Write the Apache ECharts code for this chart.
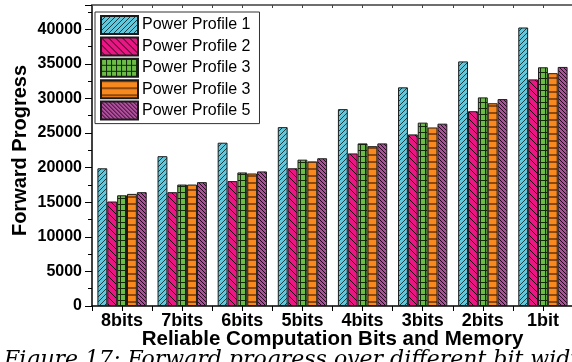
<!DOCTYPE html>
<html>
<head>
<meta charset="utf-8">
<script src="https://cdn.jsdelivr.net/npm/echarts@6/dist/echarts.min.js"></script>
<style>
  html, body { margin: 0; padding: 0; background: #fff; }
  #chart { width: 572px; height: 362px; }
</style>
</head>
<body>
<div id="chart"></div>
<script>
// Reliable computation width (bits) on the x axis
const categories = ['8bits', '7bits', '6bits', '5bits', '4bits', '3bits', '2bits', '1bit'];

// Forward progress for each power profile
const profile1 = [19900, 21650, 23600, 25850, 28450, 31600, 35350, 40250];
const profile2 = [15100, 16450, 18050, 19900, 22050, 24800, 28150, 32750];
const profile3 = [16000, 17550, 19300, 21150, 23500, 26500, 30150, 34500];
const profile3b = [16200, 17550, 19150, 20900, 23100, 25800, 29300, 33650];
const profile5 = [16450, 17900, 19450, 21350, 23500, 26350, 29900, 34550];

const legendLabels = ['Power Profile 1', 'Power Profile 2', 'Power Profile 3', 'Power Profile 3', 'Power Profile 5'];

// y axis range and step
const yMin = 0;
const yMax = 43500;
const yStep = 5000;

// Hatch fills drawn on small tiles
function tile(w, h, bg, draw) {
  const c = document.createElement('canvas');
  c.width = w; c.height = h;
  const g = c.getContext('2d');
  g.fillStyle = bg;
  g.fillRect(0, 0, w, h);
  draw(g, w, h);
  return { image: c, repeat: 'repeat' };
}
function diagUp(color, width) {
  return function (g, w, h) {
    g.strokeStyle = color; g.lineWidth = width;
    g.beginPath();
    g.moveTo(0, h); g.lineTo(w, 0);
    g.moveTo(-w, h); g.lineTo(0, 0);
    g.moveTo(w, 2 * h); g.lineTo(2 * w, h);
    g.moveTo(0, 2 * h); g.lineTo(w, h);
    g.moveTo(0, 0); g.lineTo(w, -h);
    g.stroke();
  };
}
function diagDown(color, width) {
  return function (g, w, h) {
    g.strokeStyle = color; g.lineWidth = width;
    g.beginPath();
    g.moveTo(0, 0); g.lineTo(w, h);
    g.moveTo(-w, 0); g.lineTo(0, h);
    g.moveTo(w, 0); g.lineTo(2 * w, h);
    g.moveTo(0, -h); g.lineTo(w, 0);
    g.moveTo(0, h); g.lineTo(w, 2 * h);
    g.stroke();
  };
}
const fillCyan = tile(5, 5, '#5ec8dc', diagUp('#1d3d44', 1));
const fillPink = tile(7, 7, '#ec1584', diagDown('#1a0a10', 1));
const fillGreen = tile(5, 6, '#6cbd45', function (g, w, h) {
  g.strokeStyle = '#142a0c'; g.lineWidth = 1;
  g.beginPath();
  g.moveTo(0.5, 0); g.lineTo(0.5, h);
  g.moveTo(0, 0.5); g.lineTo(w, 0.5);
  g.stroke();
});
const fillOrange = tile(4, 7, '#f7891f', function (g, w, h) {
  g.strokeStyle = '#6b3308'; g.lineWidth = 1.5;
  g.beginPath();
  g.moveTo(0, 1); g.lineTo(w, 1);
  g.stroke();
});
const fillPurple = tile(4, 4, '#b04d9d', diagDown('#1e0c1a', 1));

const fills = [fillCyan, fillPink, fillGreen, fillOrange, fillPurple];
const values = [profile1, profile2, profile3, profile3b, profile5];
const ids = ['pp1', 'pp2', 'pp3', 'pp3b', 'pp5'];

const chart = echarts.init(document.getElementById('chart'), null, { renderer: 'canvas' });

const series = values.map(function (vals, i) {
  return {
    name: ids[i],
    type: 'bar',
    xAxisIndex: 0,
    yAxisIndex: 0,
    data: vals,
    barGap: '0%',
    barCategoryGap: '18%',
    itemStyle: { color: fills[i], borderColor: '#1b1b1b', borderWidth: 1 },
    emphasis: { disabled: true },
    animation: false
  };
});

const labelMap = {};
ids.forEach(function (id, i) { labelMap[id] = legendLabels[i]; });

const boldFont = 'Liberation Sans';

chart.setOption({
  animation: false,
  backgroundColor: '#fff',
  grid: { left: 92, right: -1, top: 5, bottom: 56, containLabel: false, outerBoundsMode: 'none' },
  legend: {
    orient: 'vertical',
    left: 95,
    top: 12,
    data: ids,
    icon: 'rect',
    itemWidth: 37,
    itemHeight: 18,
    itemGap: 1.4,
    padding: [3, 9, 3, 5],
    borderColor: '#333',
    borderWidth: 1,
    backgroundColor: '#fff',
    selectedMode: false,
    formatter: function (name) { return labelMap[name]; },
    textStyle: { fontFamily: boldFont, fontSize: 16, lineHeight: 18, color: '#000', padding: [0, 0, 0, -1] }
  },
  xAxis: [
    {
      type: 'category',
      data: categories,
      position: 'bottom',
      axisLine: { lineStyle: { color: '#000', width: 1.5 } },
      axisTick: { show: false },
      axisLabel: { color: '#000', fontFamily: boldFont, fontWeight: 'bold', fontSize: 18, margin: 6 },
      name: 'Reliable Computation Bits and Memory',
      nameLocation: 'middle',
      nameMoveOverlap: false,
      nameGap: 23,
      nameTextStyle: { color: '#000', fontFamily: boldFont, fontWeight: 'bold', fontSize: 20.5 }
    },
    {
      type: 'value',
      position: 'bottom',
      min: 0,
      max: categories.length,
      interval: 0.5,
      axisLine: { show: false },
      axisTick: { show: true, inside: false, length: 5, lineStyle: { color: '#000', width: 1 } },
      axisLabel: { show: false },
      splitLine: { show: false }
    },
    {
      type: 'value',
      position: 'top',
      min: 0,
      max: categories.length,
      interval: 0.5,
      axisLine: { show: true, lineStyle: { color: '#6e6e6e', width: 2 } },
      axisTick: { show: true, inside: true, length: 3, lineStyle: { color: '#444', width: 1 } },
      axisLabel: { show: false },
      splitLine: { show: false }
    }
  ],
  yAxis: {
    type: 'value',
    min: yMin,
    max: yMax,
    interval: yStep,
    axisLine: { show: true, lineStyle: { color: '#000', width: 1.5 } },
    axisTick: { show: true, inside: false, length: 7, lineStyle: { color: '#000', width: 1 } },
    minorTick: { show: true, splitNumber: 2, length: 4, lineStyle: { color: '#000', width: 1 } },
    axisLabel: {
      color: '#000', fontFamily: boldFont, fontWeight: 'bold', fontSize: 16, margin: 10, showMaxLabel: false,
      formatter: function (v) { return String(v); }
    },
    splitLine: { show: false },
    name: 'Forward Progress',
    nameLocation: 'middle',
    nameRotate: 90,
    nameMoveOverlap: false,
    nameGap: 62,
    nameTextStyle: { color: '#000', fontFamily: boldFont, fontWeight: 'bold', fontSize: 20, padding: [0, 0, 0, 10] }
  },
  graphic: [
    {
      type: 'text',
      left: 4,
      top: 349,
      silent: true,
      style: {
        text: 'Figure 17: Forward progress over different bit widths',
        font: 'italic 22px "DejaVu Serif"',
        fill: '#000'
      }
    }
  ],
  series: series
});
</script>
</body>
</html>
